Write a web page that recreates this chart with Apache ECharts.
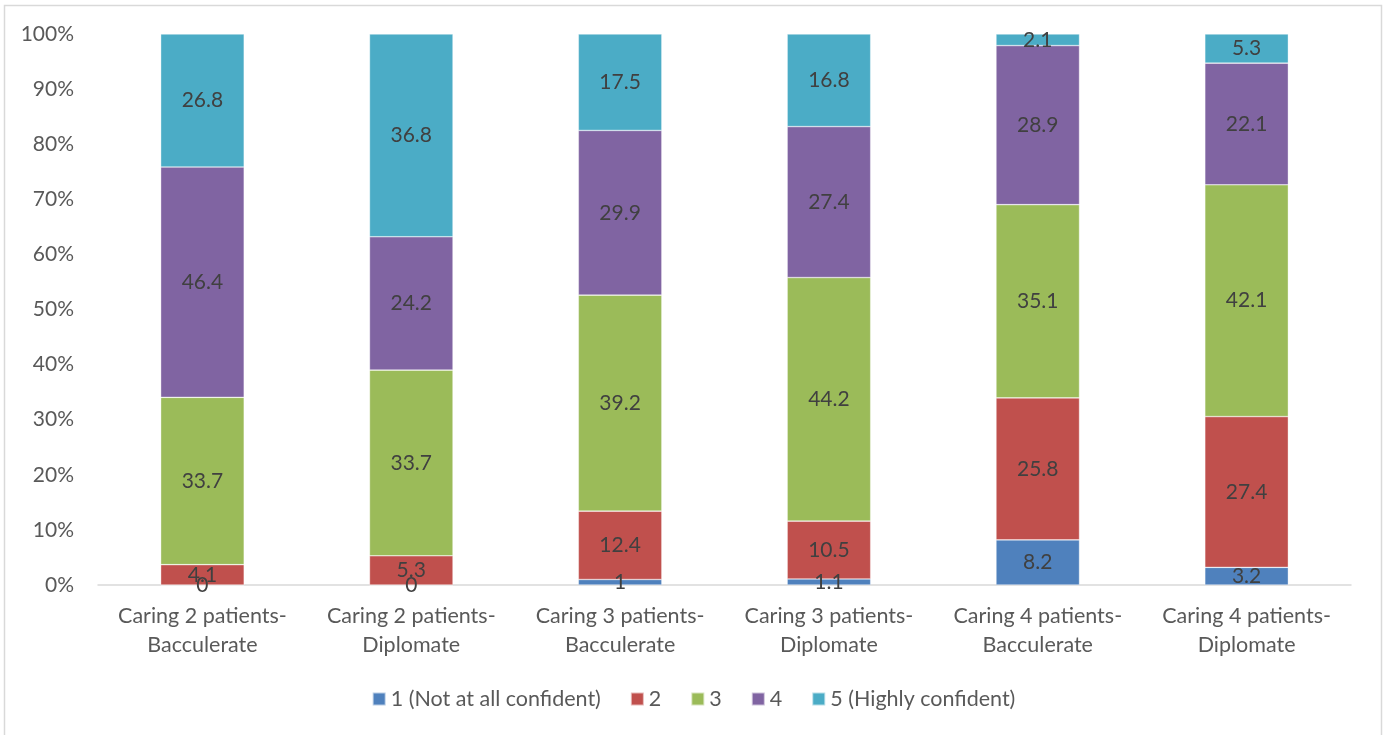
<!DOCTYPE html>
<html>
<head>
<meta charset="utf-8">
<script src="https://cdn.jsdelivr.net/npm/echarts@6/dist/echarts.min.js"></script>
<style>
  html, body { margin: 0; padding: 0; background: #fff; }
  #chart { width: 1387px; height: 735px; }
</style>
</head>
<body>
<div id="chart"></div>
<script>
// Confidence ratings by workload and qualification (raw values per level)
const categories = [
  'Caring 2 patients-\nBacculerate',
  'Caring 2 patients-\nDiplomate',
  'Caring 3 patients-\nBacculerate',
  'Caring 3 patients-\nDiplomate',
  'Caring 4 patients-\nBacculerate',
  'Caring 4 patients-\nDiplomate'
];
const seriesNames = ['1 (Not at all confident)', '2', '3', '4', '5 (Highly confident)'];
const level1 = [0, 0, 1, 1.1, 8.2, 3.2];
const level2 = [4.1, 5.3, 12.4, 10.5, 25.8, 27.4];
const level3 = [33.7, 33.7, 39.2, 44.2, 35.1, 42.1];
const level4 = [46.4, 24.2, 29.9, 27.4, 28.9, 22.1];
const level5 = [26.8, 36.8, 17.5, 16.8, 2.1, 5.3];
const yTicks = ['0%', '10%', '20%', '30%', '40%', '50%', '60%', '70%', '80%', '90%', '100%'];

const levels = [level1, level2, level3, level4, level5];
const colors = ['#4F81BD', '#C0504D', '#9BBB59', '#8064A2', '#4BACC6'];
const font = 'Lato, "Open Sans", sans-serif';

// 100% stacked: each column is normalised by its own total
const totals = categories.map((_, i) => levels.reduce((s, arr) => s + arr[i], 0));

const series = levels.map((arr, si) => ({
  name: seriesNames[si],
  type: 'bar',
  stack: 'total',
  barWidth: '40%',
  itemStyle: { color: colors[si], borderColor: 'rgba(255,255,255,0.6)', borderWidth: 0.6 },
  label: {
    show: true,
    position: 'inside',
    color: '#404040',
    fontFamily: font,
    fontSize: 21,
    formatter: p => String(arr[p.dataIndex])
  },
  data: arr.map((v, i) => v / totals[i] * 100)
}));

const chart = echarts.init(document.getElementById('chart'), null, { renderer: 'canvas' });
chart.setOption({
  animation: false,
  color: colors,
  graphic: [{
    type: 'rect',
    shape: { x: 4.5, y: 5.5, width: 1377, height: 760 },
    style: { fill: 'none', stroke: '#d9d9d9', lineWidth: 1.5 },
    silent: true,
    z: -1
  }],
  grid: { left: 98, right: 36, top: 34, bottom: 150 },
  xAxis: {
    type: 'category',
    data: categories,
    axisLine: { lineStyle: { color: '#d9d9d9', width: 1.5 } },
    axisTick: { show: false },
    axisLabel: {
      color: '#595959',
      fontFamily: font,
      fontSize: 21.5,
      lineHeight: 29,
      margin: 17,
      interval: 0
    }
  },
  yAxis: {
    type: 'value',
    min: 0,
    max: 100,
    interval: 10,
    splitLine: { show: false },
    axisLine: { show: false },
    axisTick: { show: false },
    axisLabel: {
      color: '#595959',
      fontFamily: font,
      fontSize: 21,
      margin: 24,
      formatter: v => yTicks[Math.round(v / 10)]
    }
  },
  legend: {
    data: seriesNames,
    bottom: 20,
    left: 'center',
    icon: 'rect',
    itemWidth: 13,
    itemHeight: 13,
    itemGap: 29,
    textStyle: { color: '#595959', fontFamily: font, fontSize: 21.5 }
  },
  series: series
});
</script>
</body>
</html>
